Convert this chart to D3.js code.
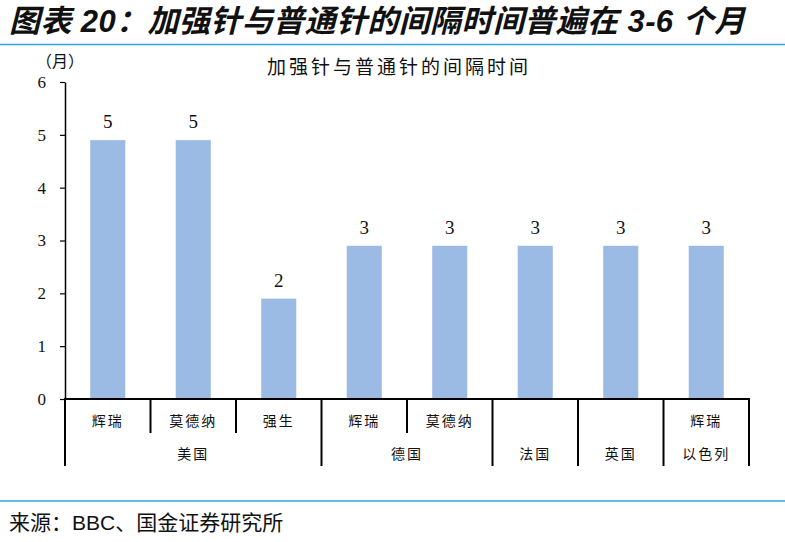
<!DOCTYPE html>
<html>
<head>
<meta charset="utf-8">
<script src="https://cdn.jsdelivr.net/npm/d3@7"></script>
<style>
  body { margin: 0; background: #fff; }
  svg { display: block; }
</style>
</head>
<body>
<script>
var width = 785;
var height = 542;

// data
var vaccines = ["辉瑞", "莫德纳", "强生", "辉瑞", "莫德纳", "", "", "辉瑞"];
var countries = ["美国", "美国", "美国", "德国", "德国", "法国", "英国", "以色列"];
var months = [4.9, 4.9, 1.9, 2.9, 2.9, 2.9, 2.9, 2.9];
var monthLabels = ["5", "5", "2", "3", "3", "3", "3", "3"];
var yTicks = [0, 1, 2, 3, 4, 5, 6];

var serif = "'Liberation Serif', 'Times New Roman', 'Noto Sans CJK SC', serif";
var cjk = "'Noto Sans CJK SC', sans-serif";

var plotLeft = 65, plotRight = 749, plotTop = 82, plotBottom = 399;

var svg = d3.select("body").append("svg")
  .attr("width", width)
  .attr("height", height);

// heading + rules
svg.append("text")
  .attr("x", 9)
  .attr("y", 32)
  .style("font-family", "'Liberation Sans', 'Noto Sans CJK SC', sans-serif")
  .style("font-weight", "bold")
  .style("font-style", "italic")
  .style("font-size", "31px")
  .style("letter-spacing", "0.4px")
  .style("fill", "#111")
  .text("图表 20：加强针与普通针的间隔时间普遍在 3-6 个月");

svg.append("line")
  .attr("x1", 0).attr("x2", width)
  .attr("y1", 44.5).attr("y2", 44.5)
  .style("stroke", "#2aa7e0").style("stroke-width", 1.5);

svg.append("line")
  .attr("x1", 0).attr("x2", width)
  .attr("y1", 501).attr("y2", 501)
  .style("stroke", "#2aa7e0").style("stroke-width", 1.5);

svg.append("text")
  .attr("x", 9)
  .attr("y", 530)
  .style("font-family", "'Liberation Sans', 'Noto Sans CJK SC', sans-serif")
  .style("font-size", "21px")
  .style("fill", "#111")
  .text("来源：BBC、国金证券研究所");

// chart title
svg.append("text")
  .attr("x", 399)
  .attr("y", 74)
  .attr("text-anchor", "middle")
  .style("font-family", cjk)
  .style("font-size", "19px")
  .style("letter-spacing", "3px")
  .style("fill", "#111")
  .text("加强针与普通针的间隔时间");

svg.append("text")
  .attr("x", 36)
  .attr("y", 67)
  .style("font-family", cjk)
  .style("font-size", "16px")
  .style("fill", "#111")
  .text("（月）");

// scales
var idx = d3.range(months.length);
var xCell = d3.scaleBand().domain(idx).range([plotLeft, plotRight]);
var xBar = d3.scaleBand().domain(idx).range([plotLeft, plotRight])
  .paddingInner(0.59).paddingOuter(0.295);
var y = d3.scaleLinear().domain([0, 6]).range([plotBottom, plotTop]);

// y axis
var yAxis = svg.append("g")
  .attr("transform", "translate(" + plotLeft + ",0)")
  .call(d3.axisLeft(y).tickValues(yTicks).tickFormat(d3.format("d"))
    .tickSize(5).tickSizeOuter(0).tickPadding(14));
yAxis.select(".domain").style("stroke", "#000").style("stroke-width", 1.5);
yAxis.selectAll(".tick line").style("stroke", "#000").style("stroke-width", 1.2);
yAxis.selectAll(".tick text")
  .style("font-family", serif)
  .style("font-size", "17px")
  .style("fill", "#111");

// bars
svg.selectAll("rect.bar")
  .data(months)
  .enter()
  .append("rect")
  .attr("class", "bar")
  .attr("x", function(d, i) { return xBar(i); })
  .attr("y", function(d) { return y(d); })
  .attr("width", xBar.bandwidth())
  .attr("height", function(d) { return y(0) - y(d); })
  .style("fill", "#9bbbe5");

svg.selectAll("text.val")
  .data(months)
  .enter()
  .append("text")
  .attr("class", "val")
  .attr("x", function(d, i) { return xBar(i) + xBar.bandwidth() / 2; })
  .attr("y", function(d) { return y(d) - 12; })
  .attr("text-anchor", "middle")
  .style("font-family", serif)
  .style("font-size", "19px")
  .style("fill", "#111")
  .text(function(d, i) { return monthLabels[i]; });

// category axis: baseline, separators, labels
svg.append("line")
  .attr("x1", plotLeft - 1).attr("x2", plotRight + 1)
  .attr("y1", plotBottom).attr("y2", plotBottom)
  .style("stroke", "#000").style("stroke-width", 2);

var edges = idx.map(function(i) { return xCell(i); }).concat([plotRight]);
svg.selectAll("line.sep")
  .data(edges)
  .enter()
  .append("line")
  .attr("class", "sep")
  .attr("x1", function(d) { return d; })
  .attr("x2", function(d) { return d; })
  .attr("y1", plotBottom)
  .attr("y2", function(d, i) {
    var full = i === 0 || i === edges.length - 1 || countries[i] !== countries[i - 1];
    return full ? 466 : 433;
  })
  .style("stroke", "#000").style("stroke-width", 2);

svg.selectAll("text.vac")
  .data(vaccines)
  .enter()
  .append("text")
  .attr("class", "vac")
  .attr("x", function(d, i) { return xCell(i) + xCell.bandwidth() / 2; })
  .attr("y", 426)
  .attr("text-anchor", "middle")
  .style("font-family", cjk)
  .style("font-size", "14px")
  .style("letter-spacing", "2px")
  .style("fill", "#111")
  .text(function(d) { return d; });

var groups = [];
countries.forEach(function(c, i) {
  var g = groups[groups.length - 1];
  if (g && g.name === c) g.end = i;
  else groups.push({ name: c, start: i, end: i });
});

svg.selectAll("text.grp")
  .data(groups)
  .enter()
  .append("text")
  .attr("class", "grp")
  .attr("x", function(d) { return (xCell(d.start) + xCell(d.end) + xCell.bandwidth()) / 2; })
  .attr("y", 459)
  .attr("text-anchor", "middle")
  .style("font-family", cjk)
  .style("font-size", "14px")
  .style("letter-spacing", "2px")
  .style("fill", "#111")
  .text(function(d) { return d.name; });
</script>
</body>
</html>
